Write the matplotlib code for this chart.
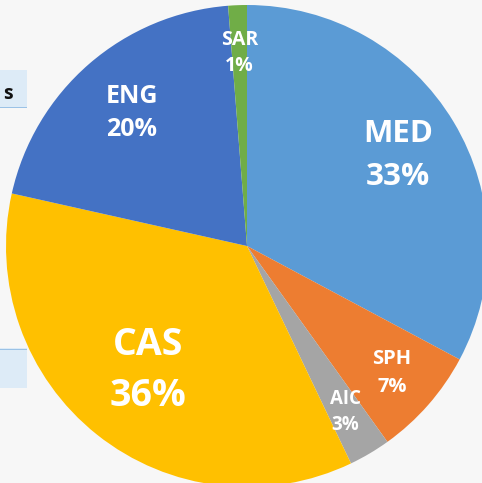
import numpy as np
import matplotlib.pyplot as plt
from matplotlib.patches import Rectangle

# slice data, clockwise from 12 o'clock
labels = ['MED', 'SPH', 'AIC', 'CAS', 'ENG', 'SAR']
shares = [32.8, 7.3, 2.8, 35.6, 20.25, 1.25]
colors = ['#5B9BD5', '#ED7D31', '#A5A5A5', '#FFC000', '#4472C4', '#70AD47']
label_sizes = [22.5, 14.5, 13.5, 27, 18, 14]
label_dist = [0.73, 0.80, 0.80, 0.66, 0.73, 0.80]

W, H = 482, 483
fig = plt.figure(figsize=(W / 100, H / 100), dpi=100)
fig.patch.set_facecolor('#f7f7f7')

# spreadsheet cells peeking out behind the chart
fig.patches.append(Rectangle((0, 1 - 108 / H), 27 / W, 38 / H, transform=fig.transFigure,
                             facecolor='#DDEBF7', edgecolor='none', zorder=0))
fig.patches.append(Rectangle((0, 1 - 108 / H), 27 / W, 1.5 / H, transform=fig.transFigure,
                             facecolor='#9BC2E6', edgecolor='none', zorder=0))
fig.patches.append(Rectangle((0, 1 - 388 / H), 27 / W, 40 / H, transform=fig.transFigure,
                             facecolor='#DDEBF7', edgecolor='none', zorder=0))
fig.patches.append(Rectangle((0, 1 - 350 / H), 27 / W, 1.5 / H, transform=fig.transFigure,
                             facecolor='#9BC2E6', edgecolor='none', zorder=0))
fig.text(3 / W, 1 - 94 / H, 's', fontsize=14, fontweight='bold', family='Open Sans',
         ha='left', va='center', color='#111111')

ax = fig.add_axes([0, 0, 1, 1])
ax.set_facecolor('none')
cx, cy, R = 247, H - 246, 241
wedges, _ = ax.pie(shares, colors=colors, startangle=90, counterclock=False,
                   center=(cx, cy), radius=R, wedgeprops=dict(linewidth=0))

total = sum(shares)
for w, lab, val, fs, d in zip(wedges, labels, shares, label_sizes, label_dist):
    mid = np.deg2rad((w.theta1 + w.theta2) / 2)
    x = cx + d * R * np.cos(mid)
    y = cy + d * R * np.sin(mid)
    gap = 1.35 * fs * 100 / 72  # px between the two line centres
    style = dict(ha='center', va='center', color='white', fontsize=fs,
                 fontweight='bold', family='Open Sans')
    ax.text(x, y + gap / 2, lab, **style)
    ax.text(x, y - gap / 2, f'{round(val / total * 100):.0f}%', **style)

ax.set_xlim(0, W)
ax.set_ylim(0, H)
ax.set_aspect('equal')
ax.axis('off')

fig.savefig('out.png', dpi=100, facecolor=fig.get_facecolor())
